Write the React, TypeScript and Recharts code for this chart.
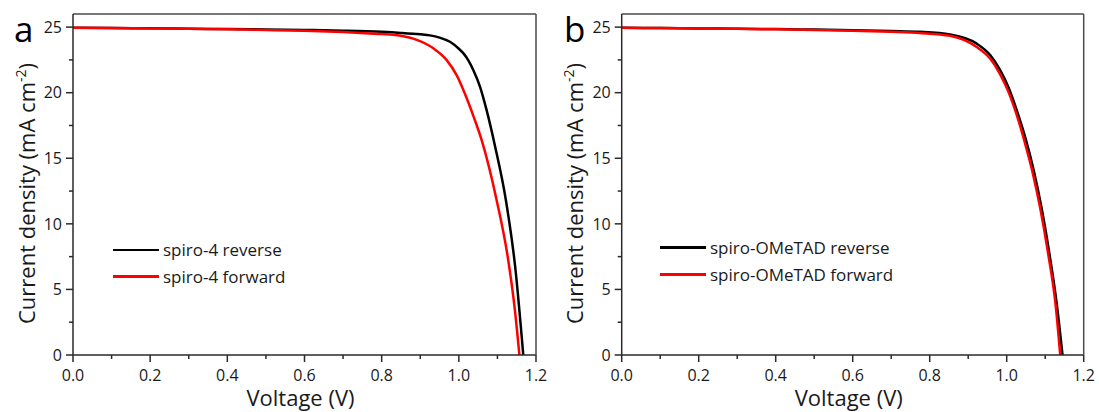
import React from "react";
import { LineChart, Line, XAxis, YAxis, Legend } from "recharts";

// ---- Data ----
// Panel a: spiro-4
const aRevV = [0, 0.1, 0.2, 0.3, 0.4, 0.5, 0.6, 0.7, 0.8, 0.85, 0.9, 0.925, 0.95, 0.977, 1.0, 1.012, 1.025, 1.038, 1.055, 1.072, 1.094, 1.122, 1.146, 1.167];
const aRevJ = [24.95, 24.93, 24.91, 24.88, 24.85, 24.82, 24.78, 24.73, 24.64, 24.56, 24.45, 24.37, 24.2, 23.88, 23.35, 23.0, 22.45, 21.7, 20.45, 18.67, 15.9, 11.8, 6.73, 0];
const aFwdV = [0, 0.1, 0.2, 0.3, 0.4, 0.5, 0.6, 0.7, 0.8, 0.83, 0.882, 0.933, 0.968, 0.995, 1.016, 1.038, 1.059, 1.098, 1.128, 1.145, 1.157];
const aFwdJ = [24.95, 24.93, 24.9, 24.87, 24.83, 24.78, 24.72, 24.62, 24.47, 24.42, 24.12, 23.4, 22.5, 21.3, 19.9, 18.2, 16.4, 11.8, 7.24, 3.5, 0];

// Panel b: spiro-OMeTAD
const bRevV = [0, 0.1, 0.2, 0.3, 0.4, 0.5, 0.6, 0.7, 0.775, 0.853, 0.921, 0.957, 0.983, 1.004, 1.026, 1.05, 1.07, 1.09, 1.11, 1.13, 1.145];
const bRevJ = [24.95, 24.93, 24.9, 24.88, 24.85, 24.81, 24.76, 24.7, 24.64, 24.44, 23.76, 22.87, 21.72, 20.45, 18.67, 16.4, 14.1, 11.3, 7.9, 3.9, 0];
const bFwdV = [0, 0.1, 0.2, 0.3, 0.4, 0.5, 0.6, 0.7, 0.775, 0.853, 0.921, 0.957, 0.983, 1.004, 1.026, 1.047, 1.067, 1.087, 1.107, 1.127, 1.139];
const bFwdJ = [24.95, 24.93, 24.9, 24.87, 24.83, 24.78, 24.72, 24.64, 24.55, 24.34, 23.5, 22.6, 21.4, 20.1, 18.3, 16.2, 13.96, 11.2, 7.84, 3.84, 0];

const xTicks = [0, 0.1, 0.2, 0.3, 0.4, 0.5, 0.6, 0.7, 0.8, 0.9, 1.0, 1.1, 1.2];
const yTicks = [0, 2.5, 5, 7.5, 10, 12.5, 15, 17.5, 20, 22.5, 25];

const zip = (v: number[], j: number[]) => v.map((x, i) => ({ v: x, j: j[i] }));

const FONT = "'Open Sans', 'DejaVu Sans', sans-serif";
const TEXT = "#1a1a1a";
const AXIS = "#2a2a2a";
const FRAME = "#4a4a4a";
const MAJOR = 7;
const MINOR = 4;
const X_MARGIN = 8;
const Y_MARGIN = 4;
const TICK_FS = 16;

const isMajorX = (v: number) => Math.abs(Math.round(v * 10) % 2) === 0;
const isMajorY = (v: number) => Math.abs(v % 5) < 1e-9;

function XTick(props: any) {
  const { x, y, payload } = props;
  const v = payload.value as number;
  const major = isMajorX(v);
  const axisY = y - MAJOR - X_MARGIN;
  return (
    <g>
      <line x1={x} x2={x} y1={axisY} y2={axisY + (major ? MAJOR : MINOR)} stroke={AXIS} strokeWidth={1.5} />
      {major && (
        <text x={x} y={y} dy="0.7em" textAnchor="middle" fill={TEXT} fontSize={TICK_FS} fontFamily={FONT}>
          {v.toFixed(1)}
        </text>
      )}
    </g>
  );
}

function YTick(props: any) {
  const { x, y, payload } = props;
  const v = payload.value as number;
  const major = isMajorY(v);
  const axisX = x + MAJOR + Y_MARGIN;
  return (
    <g>
      <line x1={axisX} x2={axisX - (major ? MAJOR : MINOR)} y1={y} y2={y} stroke={AXIS} strokeWidth={1.5} />
      {major && (
        <text x={x} y={y} dy="0.355em" textAnchor="end" fill={TEXT} fontSize={TICK_FS} fontFamily={FONT}>
          {String(v)}
        </text>
      )}
    </g>
  );
}

type PanelProps = {
  letter: string;
  revLabel: string;
  fwdLabel: string;
  rev: { v: number; j: number }[];
  fwd: { v: number; j: number }[];
  plotLeft: number;
  plotRight: number;
  legendLeft: number;
  legendTop: number;
  legendRow: number;
  letterLeft: number;
};

function Panel(p: PanelProps) {
  const W = 550;
  const H = 412;
  const legendContent = () => (
    <div style={{ fontFamily: FONT, fontSize: 17, color: TEXT }}>
      {[
        { c: "#000000", t: p.revLabel },
        { c: "#ff0000", t: p.fwdLabel },
      ].map((r) => (
        <div key={r.t} style={{ display: "flex", alignItems: "center", height: p.legendRow, whiteSpace: "nowrap" }}>
          <div style={{ width: 46, height: 2.5, background: r.c, marginRight: 4 }} />
          <span>{r.t}</span>
        </div>
      ))}
    </div>
  );
  return (
    <div style={{ position: "relative", width: W, height: H }}>
      <LineChart
        width={W}
        height={H}
        margin={{ top: 13, left: p.plotLeft - 1, right: W - p.plotRight - 1, bottom: 56 }}
      >
        <XAxis
          xAxisId="x"
          type="number"
          dataKey="v"
          domain={[0, 1.2]}
          ticks={xTicks}
          interval={0}
          allowDataOverflow
          height={1}
          tickSize={MAJOR}
          tickMargin={X_MARGIN}
          tickLine={false}
          stroke={AXIS}
          strokeWidth={1.5}
          tick={<XTick />}
          label={{
            content: (props: any) => {
              const vb = props.viewBox || {};
              return (
                <text
                  x={vb.x + vb.width / 2 - 4}
                  y={vb.y + 51}
                  textAnchor="middle"
                  fontFamily={FONT}
                  fontSize={22}
                  fill={TEXT}
                >
                  Voltage (V)
                </text>
              );
            },
          }}
        />
        <XAxis
          xAxisId="xtop"
          orientation="top"
          type="number"
          domain={[0, 1.2]}
          height={1}
          tick={false}
          tickLine={false}
          stroke={FRAME}
          strokeWidth={1.5}
        />
        <YAxis
          yAxisId="y"
          type="number"
          domain={[0, 26]}
          ticks={yTicks}
          interval={0}
          allowDataOverflow
          width={1}
          tickSize={MAJOR}
          tickMargin={Y_MARGIN}
          tickLine={false}
          stroke={AXIS}
          strokeWidth={1.5}
          tick={<YTick />}
          label={{
            content: (props: any) => {
              const vb = props.viewBox || {};
              const cx = vb.x + vb.width - 46;
              const cy = vb.y + vb.height / 2 + 9;
              return (
                <text
                  x={cx}
                  y={cy}
                  transform={`rotate(-90, ${cx}, ${cy})`}
                  textAnchor="middle"
                  dy="0.35em"
                  fontFamily={FONT}
                  fontSize={22}
                  fill={TEXT}
                >
                  Current density (mA cm
                  <tspan dy={-9} fontSize={14}>-2</tspan>
                  <tspan dy={9}>)</tspan>
                </text>
              );
            },
          }}
        />
        <YAxis
          yAxisId="yright"
          orientation="right"
          type="number"
          domain={[0, 26]}
          width={1}
          tick={false}
          tickLine={false}
          stroke={FRAME}
          strokeWidth={1.5}
        />
        <Legend
          layout="vertical"
          align="center"
          verticalAlign="middle"
          content={legendContent}
          wrapperStyle={{ left: p.legendLeft, top: p.legendTop, width: 300, height: p.legendRow * 2 }}
        />
        <Line
          xAxisId="x"
          yAxisId="y"
          data={p.rev}
          dataKey="j"
          name={p.revLabel}
          type="monotone"
          stroke="#000000"
          strokeWidth={2.5}
          dot={false}
          isAnimationActive={false}
        />
        <Line
          xAxisId="x"
          yAxisId="y"
          data={p.fwd}
          dataKey="j"
          name={p.fwdLabel}
          type="monotone"
          stroke="#ff0000"
          strokeWidth={2.5}
          dot={false}
          isAnimationActive={false}
        />
      </LineChart>
      <div
        style={{
          position: "absolute",
          left: p.letterLeft,
          top: 5,
          fontFamily: FONT,
          fontSize: 35,
          color: "#000",
          lineHeight: "normal",
        }}
      >
        {p.letter}
      </div>
    </div>
  );
}

export default function App() {
  return (
    <div
      style={{
        position: "absolute",
        left: 0,
        top: 0,
        width: 1099,
        height: 412,
        background: "#fff",
        display: "flex",
      }}
    >
      <Panel
        letter="a"
        revLabel="spiro-4 reverse"
        fwdLabel="spiro-4 forward"
        rev={zip(aRevV, aRevJ)}
        fwd={zip(aFwdV, aFwdJ)}
        plotLeft={73}
        plotRight={536}
        legendLeft={113}
        legendTop={236.5}
        legendRow={26.7}
        letterLeft={14}
      />
      <Panel
        letter="b"
        revLabel="spiro-OMeTAD reverse"
        fwdLabel="spiro-OMeTAD forward"
        rev={zip(bRevV, bRevJ)}
        fwd={zip(bFwdV, bFwdJ)}
        plotLeft={71.7}
        plotRight={533.7}
        legendLeft={110}
        legendTop={234}
        legendRow={27}
        letterLeft={14}
      />
    </div>
  );
}
